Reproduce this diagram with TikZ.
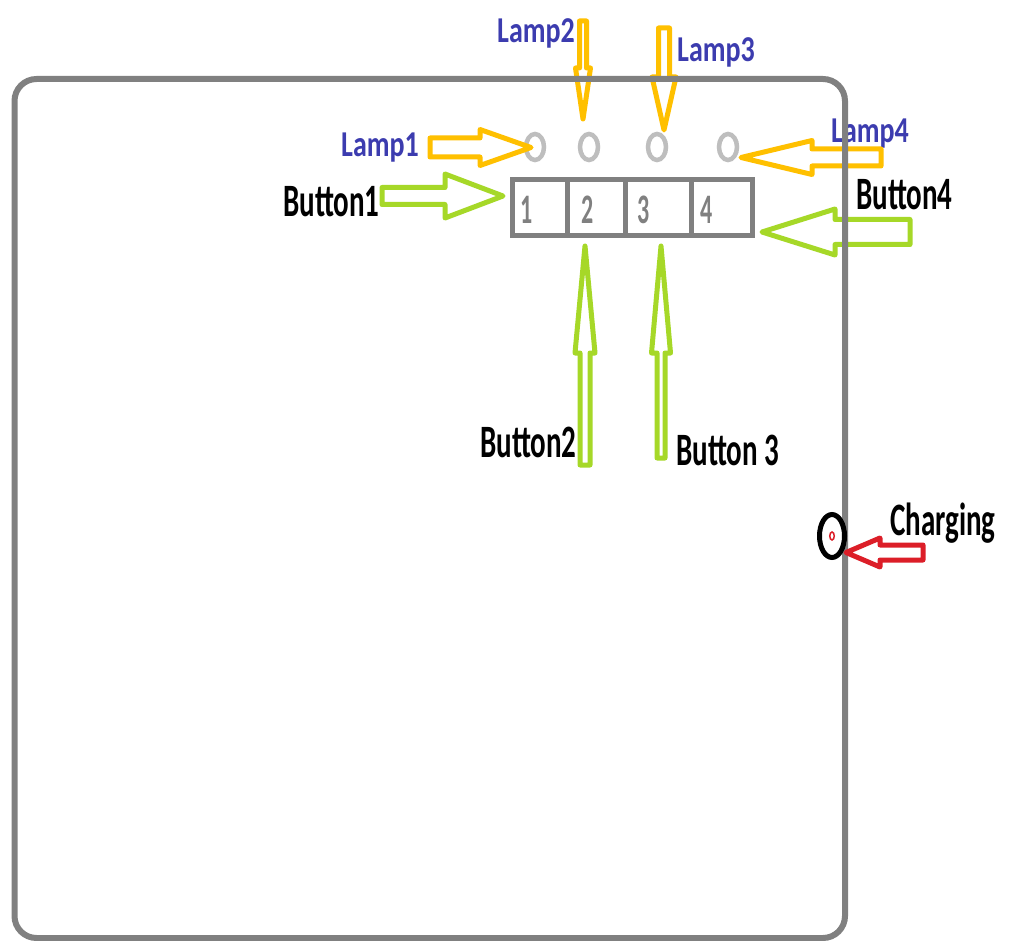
\documentclass[tikz,border=0pt]{standalone}
\usepackage{fontspec}
\setmainfont{Carlito}
\usetikzlibrary{calc,shapes.geometric}
\definecolor{framec}{RGB}{128,128,128}
\definecolor{lampc}{RGB}{190,190,190}
\definecolor{orng}{RGB}{255,192,0}
\definecolor{grn}{RGB}{166,216,40}
\definecolor{redc}{RGB}{220,30,40}
\definecolor{bluec}{RGB}{60,60,175}
\definecolor{digitc}{RGB}{128,128,128}
\newcommand\vstretch[2]{\scalebox{1}[#1]{#2}}
\newcommand\blockarrow[6]{%
  \path ($(#3)!#6!(#2)$) coordinate (hb);
  \draw[#1] ($(#2)!#4!90:(#3)$) -- ($(hb)!#4!90:(#3)$) -- ($(hb)!#5!90:(#3)$) -- (#3)
    -- ($(hb)!#5!270:(#3)$) -- ($(hb)!#4!270:(#3)$) -- ($(#2)!#4!270:(#3)$) -- cycle;}
\tikzset{
  lamplbl/.style={anchor=base west, inner sep=0pt, text=bluec, font=\bfseries\fontsize{28}{30}\selectfont},
  btnlbl/.style={anchor=base west, inner sep=0pt, text=black, font=\bfseries\fontsize{29}{32}\selectfont},
  digitlbl/.style={anchor=base west, inner sep=0pt, text=digitc, font=\bfseries\fontsize{24}{26}\selectfont},
  lamp/.style={ellipse, draw=lampc, line width=4.5pt, minimum width=18pt, minimum height=26pt, inner sep=0pt},
  orangearrow/.style={draw=orng, line width=5pt, line join=round, fill=white},
  greenarrow/.style={draw=grn, line width=5pt, line join=round, fill=white},
  redarrow/.style={draw=redc, line width=5pt, line join=round, fill=white},
  boxline/.style={draw=framec, line width=5pt},
  framebox/.style={draw=framec, line width=6pt, rounded corners=22pt},
}
\begin{document}
\begin{tikzpicture}[x=1pt,y=-1pt]
\useasboundingbox[fill=white] (0,0) rectangle (1009,941);

% lamps
\node[lamp] (lamp1) at (535,147) {};
\node[lamp] (lamp2) at (589,147) {};
\node[lamp] (lamp3) at (657,147) {};
\node[lamp] (lamp4) at (728,147) {};

% button strip
\coordinate (bxa) at (512.5,179.5);
\coordinate (bxb) at (752.5,235.5);
\draw[boxline] (bxa) rectangle (bxb);
\draw[boxline] (567,179.5) -- (567,235.5);
\draw[boxline] (625,179.5) -- (625,235.5);
\draw[boxline] (691,179.5) -- (691,235.5);
\node[digitlbl] (d1) at (520,224) {\vstretch{1.75}{1}};
\node[digitlbl] (d2) at (581,224) {\vstretch{1.75}{2}};
\node[digitlbl] (d3) at (637,224) {\vstretch{1.75}{3}};
\node[digitlbl] (d4) at (700,224) {\vstretch{1.75}{4}};

% labels
\node[lamplbl] (l1lbl) at (341,157) {\vstretch{1.3}{Lamp1}};
\node[lamplbl] (l2lbl) at (497,43) {\vstretch{1.3}{Lamp2}};
\node[lamplbl] (l3lbl) at (677,62) {\vstretch{1.3}{Lamp3}};
\node[lamplbl] (l4lbl) at (831,143) {\vstretch{1.3}{Lamp4}};
\node[btnlbl] (b1lbl) at (283,217) {\vstretch{1.6}{Button1}};
\node[btnlbl] (b4lbl) at (856,210) {\vstretch{1.6}{Button4}};
\node[btnlbl] (b2lbl) at (480,457) {\vstretch{1.6}{Button2}};
\node[btnlbl] (b3lbl) at (676,465) {\vstretch{1.6}{Button 3}};
\node[btnlbl] (chlbl) at (890,535) {\vstretch{1.6}{Charging}};

% arrow ends
\coordinate (t1) at (430,147.5);  \coordinate (p1) at (531,147.5);
\coordinate (t2) at (583,21);     \coordinate (p2) at (583,119);
\coordinate (t3) at (664,28);     \coordinate (p3) at (664,130);
\coordinate (t4) at (881,157.5);  \coordinate (p4) at (741,157.5);
\coordinate (tb1) at (382,196);   \coordinate (pb1) at (503,196);
\coordinate (tb4) at (910,232);   \coordinate (pb4) at (762,232);
\coordinate (tb2) at (585,465);   \coordinate (pb2) at (585,246);
\coordinate (tb3) at (661,458);   \coordinate (pb3) at (661,246);
\coordinate (tch) at (923,552.5); \coordinate (pch) at (846,552.5);

\blockarrow{orangearrow}{t1}{p1}{9.5pt}{18pt}{51pt}
\blockarrow{orangearrow}{t2}{p2}{3.5pt}{7.5pt}{51pt}
\blockarrow{orangearrow}{t3}{p3}{5.5pt}{12pt}{53pt}
\blockarrow{orangearrow}{t4}{p4}{8.5pt}{17pt}{71pt}
\blockarrow{greenarrow}{tb1}{pb1}{8.5pt}{22pt}{58pt}
\blockarrow{greenarrow}{tb4}{pb4}{12.5pt}{23pt}{73pt}
\blockarrow{greenarrow}{tb2}{pb2}{5pt}{10pt}{107pt}
\blockarrow{greenarrow}{tb3}{pb3}{4pt}{9.5pt}{107pt}

% device frame
\draw[framebox] (14.5,79) rectangle (845,938);

% charging port
\blockarrow{redarrow}{tch}{pch}{7.5pt}{14.5pt}{34pt}
\node[ellipse, draw=black, line width=5pt, minimum width=25pt, minimum height=43pt, inner sep=0pt] (port) at (832,536) {};
\node[ellipse, draw=redc, line width=1.5pt, minimum width=4.5pt, minimum height=8pt, inner sep=0pt] (pin) at (port.center) {};
\end{tikzpicture}
\end{document}
